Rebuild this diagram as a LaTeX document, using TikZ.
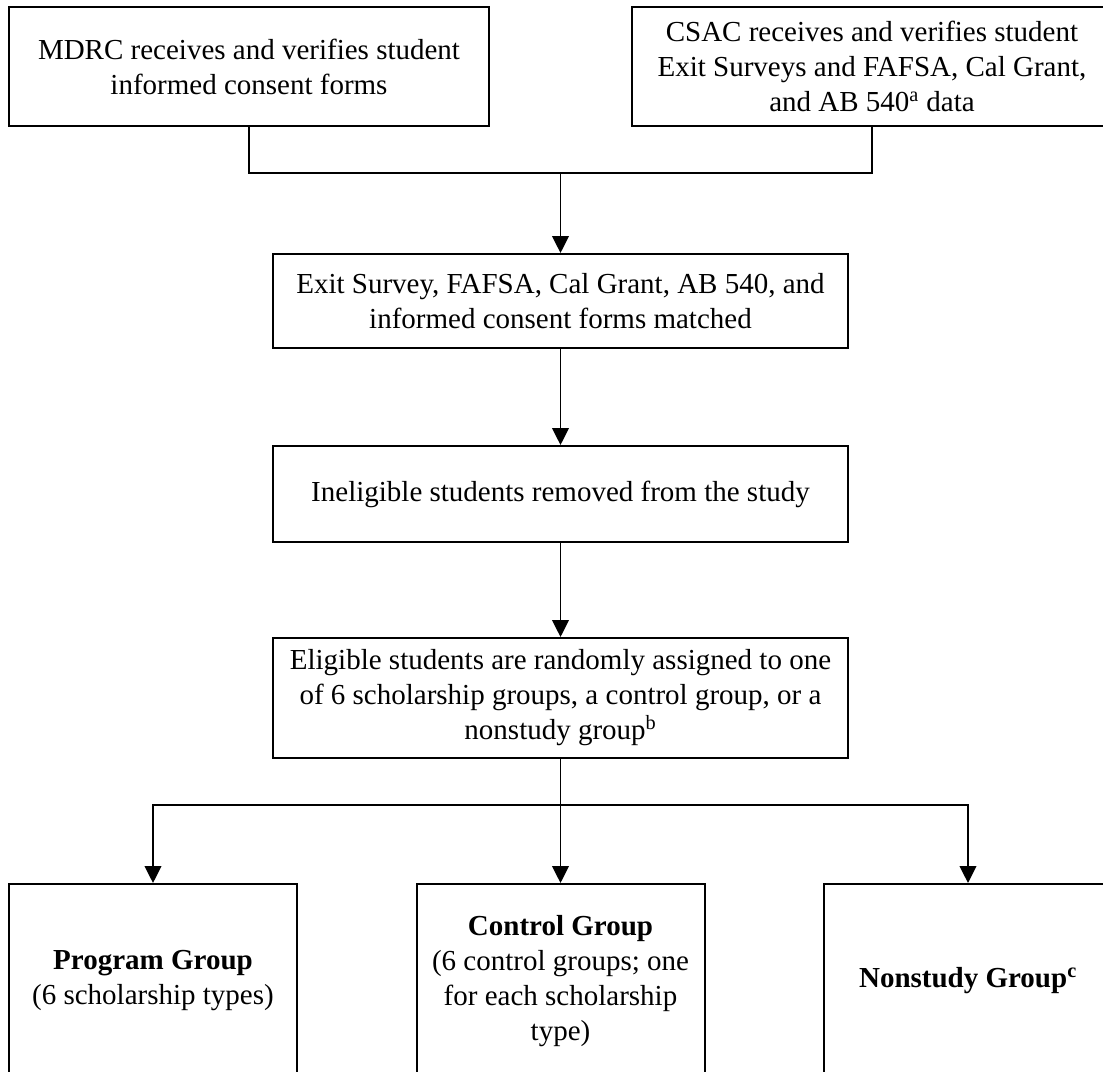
\documentclass[tikz,border=0pt]{standalone}
\usepackage{fontspec}
\setmainfont{Liberation Serif}
\usetikzlibrary{arrows.meta}
\begin{document}
\begin{tikzpicture}[x=0.75pt,y=-0.75pt,
  box/.style={draw, line width=1.5pt, inner sep=0pt, align=center,
    font=\fontsize{21.75}{26.25}\selectfont},
  sz/.style 2 args={minimum width=#1*0.75pt, minimum height=#2*0.75pt},
  conn/.style={line width=1.3pt},
  arr/.style={line width=1.3pt, -{Triangle[length=12.75pt,width=12.5pt]}}]
\useasboundingbox (0,0) rectangle (1103,1071);
\clip (0,0) rectangle (1103,1071);
\node[box, sz={480}{119}] (mdrc) at (249,66.5)
  {MDRC receives and verifies student\\informed consent forms};
\node[box, sz={480}{119}] (csac) at (872,66.5)
  {CSAC receives and verifies student\\Exit Surveys and FAFSA, Cal Grant,\\and AB 540\textsuperscript{a} data};
\node[box, sz={575}{94}] (match) at (560.5,301)
  {Exit Survey, FAFSA, Cal Grant, AB 540, and\\informed consent forms matched};
\node[box, sz={575}{96}] (inel) at (560.5,494)
  {Ineligible students removed from the study};
\node[box, sz={575}{120}] (elig) at (560.5,698)
  {Eligible students are randomly assigned to one\\of 6 scholarship groups, a control group, or a\\nonstudy group\textsuperscript{b}};
\node[box, sz={288}{194}] (prog) at (153,981)
  {\textbf{Program Group}\\(6 scholarship types)};
\node[box, sz={288}{194}] (ctrl) at (560.5,981)
  {\textbf{Control Group}\\(6 control groups; one\\for each scholarship\\type)};
\node[box, sz={288}{194}] (non) at (968,981)
  {\textbf{Nonstudy Group\textsuperscript{c}}};
\coordinate (j1) at (560.5,173);
\coordinate (j2) at (560.5,805);
\draw[conn] (mdrc.south) -- (mdrc.south |- j1) -- (csac.south |- j1) -- (csac.south);
\draw[arr] (j1) -- (match.north);
\draw[arr] (match.south) -- (inel.north);
\draw[arr] (inel.south) -- (elig.north);
\draw[conn] (elig.south) -- (j2);
\draw[arr] (j2) -| (prog.north);
\draw[arr] (j2) -| (non.north);
\draw[arr] (j2) -- (ctrl.north);
\end{tikzpicture}
\end{document}
